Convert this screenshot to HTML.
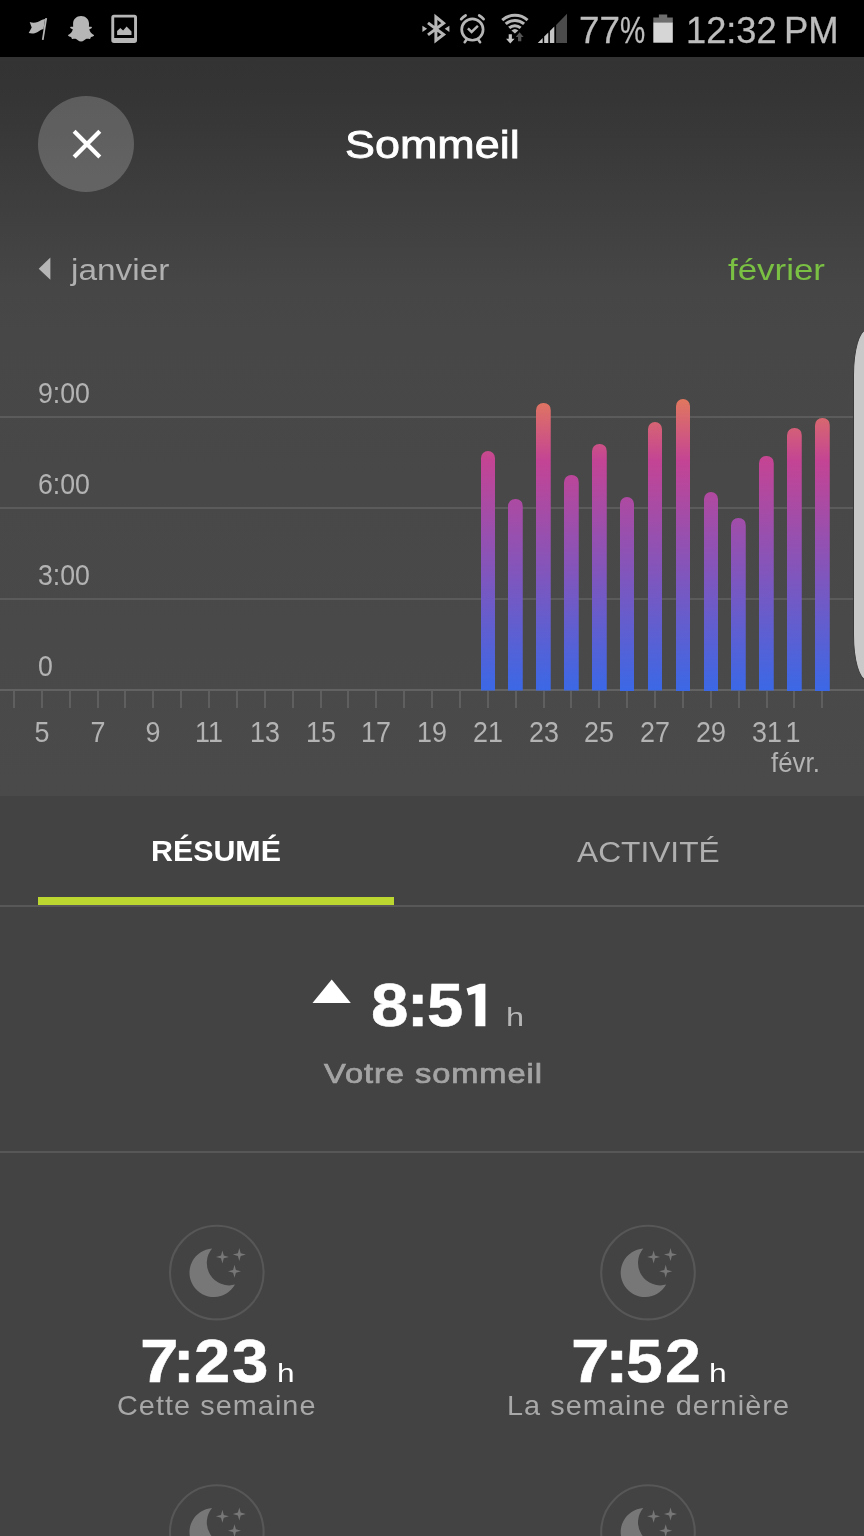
<!DOCTYPE html>
<html>
<head>
<meta charset="utf-8">
<title>Sommeil</title>
<style>
*{margin:0;padding:0;box-sizing:border-box;}
html,body{width:864px;height:1536px;overflow:hidden;background:#434343;}
body{font-family:"Liberation Sans",sans-serif;position:relative;color:#fff;}
.abs{position:absolute;}
.t{position:absolute;white-space:nowrap;line-height:1;transform-origin:0 0;}
#root{position:absolute;left:0;top:0;width:864px;height:1536px;will-change:transform;}
#status{position:absolute;left:0;top:0;width:864px;height:57.5px;background:#000;}
#header{position:absolute;left:0;top:57px;width:864px;height:280px;background:linear-gradient(#333333 0px,#343434 30px,#464646 230px,#474747 280px);}
#chart{position:absolute;left:0;top:330px;width:864px;height:466.6px;background:linear-gradient(#474747,#4a4a4a);}
#lower{position:absolute;left:0;top:796px;width:864px;height:740px;background:#434343;}
.grid{position:absolute;left:0;width:864px;height:2px;background:#5b5b5b;}
.ylab{position:absolute;left:37.6px;font-size:28.9px;line-height:1;color:#b3b3b3;white-space:nowrap;transform-origin:0 0;transform:scaleX(0.9238);}
.xlab{position:absolute;top:718px;width:60px;text-align:center;font-size:28.6px;line-height:1;color:#b3b3b3;white-space:nowrap;transform:scaleX(0.94);}
.tick{position:absolute;top:691px;width:2px;height:16.5px;background:#5f5f5f;}
.bar{position:absolute;width:14.5px;border-radius:7.25px 7.25px 0 0;background:linear-gradient(#e27a5c 0%,#c44494 22%,#3b68e6 100%) no-repeat bottom/100% 295px;}
</style>
</head>
<body>
<div id="root">
<div id="status"></div>
<div id="header"></div>
<div id="chart"></div>
<div id="lower"></div>

<!-- status bar -->
<svg class="abs" style="left:0;top:0;" width="864" height="57" viewBox="0 0 864 57"><path d="M45.3 18.0 L47.1 18.2 L43.6 40.0 L41.9 39.8 Z" fill="#b6b6b6"/><path d="M29.7 22.1 C32 23.0 35.2 23.1 37.6 22.0 C40 20.9 42 19.3 45.1 18.9 L43.5 29.0 C41 29.2 39.6 30.9 37.2 32.2 C34.6 33.6 31.5 33.7 28.7 33.0 L31.7 27.4 Z" fill="#b6b6b6"/><path d="M81.05 16.1 C85.6 16.1 89.0 19.4 89.0 23.6 C89.0 24.6 89.0 25.6 88.9 26.6 C89.8 27.1 91.3 26.2 91.9 27.2 C92.3 28.3 90.0 28.7 89.3 29.3 C89.9 32.0 91.6 34.1 94.0 35.1 C94.5 36.2 92.4 36.8 91.0 37.0 C90.5 37.6 90.7 38.6 90.0 38.9 C88.6 39.1 87.5 38.3 86.0 39.0 C84.4 39.9 83.5 41.5 81.05 41.5 C78.60 41.5 77.70 39.9 76.10 39.0 C74.60 38.3 73.50 39.1 72.10 38.9 C71.40 38.6 71.60 37.6 71.10 37.0 C69.70 36.8 67.60 36.2 68.10 35.1 C70.50 34.1 72.20 32.0 72.80 29.3 C72.10 28.7 69.80 28.3 70.20 27.2 C70.80 26.2 72.30 27.1 73.20 26.6 C73.10 25.6 73.10 24.6 73.10 23.6 C73.10 19.4 76.50 16.1 81.05 16.1 Z" fill="#b6b6b6"/><path fill-rule="evenodd" fill="#b6b6b6" d="M114 14.8 H134.3 A2.7 2.7 0 0 1 137 17.5 V40.3 A2.7 2.7 0 0 1 134.3 43 H114 A2.7 2.7 0 0 1 111.3 40.3 V17.5 A2.7 2.7 0 0 1 114 14.8 Z M114.2 17.6 V38.1 H134.1 V17.6 Z"/><path fill="#b6b6b6" d="M117.1 34.9 V31.1 L120.3 27.9 L123.1 30.4 L126.6 26.5 L131.5 31.4 V34.9 Z"/><path d="M428 22.9 L443.6 34.5 L435.9 40.4 L435.9 16.9 L443.6 23.1 L428 34.9" fill="none" stroke="#b6b6b6" stroke-width="3" stroke-linejoin="miter" stroke-miterlimit="6"/><path d="M422.4 25.8 L427.1 28.8 L422.4 31.9 Z M449.4 25.8 L444.7 28.8 L449.4 31.9 Z" fill="#b6b6b6"/><circle cx="472.4" cy="29.55" r="10.7" fill="none" stroke="#b6b6b6" stroke-width="2.7"/><path d="M461.2 19.1 A16 16 0 0 1 465.6 15.5 M479.2 15.5 A16 16 0 0 1 483.6 19.1" fill="none" stroke="#b6b6b6" stroke-width="2.7" stroke-linecap="round"/><path d="M466.6 39.6 L464.7 42.2 M478.2 39.6 L480.1 42.2" fill="none" stroke="#b6b6b6" stroke-width="2.6" stroke-linecap="round"/><path d="M467.9 28.3 L471.6 31.9 L477.9 25.9" fill="none" stroke="#b6b6b6" stroke-width="2.5"/><path d="M502.24 20.09 A19.1 19.1 0 0 1 527.56 20.09 M505.69 23.99 A13.9 13.9 0 0 1 524.11 23.99 M509.20 27.96 A8.6 8.6 0 0 1 520.60 27.96" fill="none" stroke="#b6b6b6" stroke-width="3"/><path d="M514.9 33.4 L511.45 30.51 A5.2 5.2 0 0 1 518.35 30.51 Z" fill="#b6b6b6"/><path d="M508.8 34.2 H511.9 V38.8 H514.5 L510.3 43.4 L506.1 38.8 H508.8 Z" fill="#000" stroke="#000" stroke-width="1.6"/><path d="M508.7 34.2 H511.9 V38.8 H514.6 L510.3 43.5 L506.0 38.8 H508.7 Z" fill="#c4c4c4"/><path d="M519.6 32.2 L523.6 36.9 H521.3 V41.2 H518 V36.9 H515.7 Z" fill="#000" stroke="#000" stroke-width="1.6"/><path d="M519.6 32.2 L523.6 36.9 H521.3 V41.2 H518 V36.9 H515.7 Z" fill="#555"/><path d="M556.1 43 V25 L567 13.8 V43 Z" fill="#4b4b4b"/><path d="M537.8 43 L537.8 43.00 L542.7 38.10 L542.7 43 Z" fill="#c6c6c6"/><path d="M544.2 43 L544.2 36.60 L548.3 32.50 L548.3 43 Z" fill="#c6c6c6"/><path d="M549.9 43 L549.9 30.90 L554.3 26.50 L554.3 43 Z" fill="#c6c6c6"/><path d="M658.9 14.5 H667.2 V17.5 H672.8 V22.4 H653.3 V17.5 H658.9 Z" fill="#6e6e6e"/><rect x="653.3" y="22.4" width="19.5" height="20.3" fill="#d6d6d6"/></svg>
<div class="t" style="left:578.78px;top:12px;font-size:37px;-webkit-text-stroke:0.3px #bdbdbd;color:#bdbdbd;transform:scaleX(0.9955);">77</div>
<div class="t" style="left:620.21px;top:12px;font-size:37px;-webkit-text-stroke:0.3px #bdbdbd;color:#bdbdbd;transform:scaleX(0.7655);">%</div>
<div class="t" style="left:685.5px;top:12px;font-size:37px;-webkit-text-stroke:0.3px #bdbdbd;color:#bdbdbd;transform:scaleX(0.9787);">12:32</div>
<div class="t" style="left:784.36px;top:12px;font-size:37px;-webkit-text-stroke:0.3px #bdbdbd;color:#bdbdbd;transform:scaleX(0.9851);">PM</div>

<!-- header -->
<div class="abs" style="left:38.3px;top:95.8px;width:96px;height:96px;border-radius:50%;background:rgba(255,255,255,0.2);"></div>
<svg class="abs" style="left:60px;top:117px;" width="54" height="54" viewBox="60 117 54 54"><path d="M74.1 131.2 L99.8 156.9 M99.8 131.2 L74.1 156.9" stroke="#fff" stroke-width="4.2" fill="none"/></svg>
<div class="t" style="left:344.6px;top:125.5px;font-size:38.4px;-webkit-text-stroke:0.8px #fff;color:#fff;transform:scaleX(1.1699);">Sommeil</div>
<svg class="abs" style="left:36px;top:254px;" width="18" height="30" viewBox="36 254 18 30"><path d="M50.4 257.6 L50.4 279.8 L38.7 268.7 Z" fill="#b5b5b5"/></svg>
<div class="t" style="left:71.0px;top:256px;font-size:29.0px;color:#b0b0b0;transform:scaleX(1.1515);">janvier</div>
<div class="t" style="left:728.0px;top:256px;font-size:29.0px;color:#7ac143;transform:scaleX(1.2039);">février</div>
<!-- chart -->
<div class="grid" style="top:415.5px;"></div>
<div class="grid" style="top:506.5px;"></div>
<div class="grid" style="top:597.5px;"></div>
<div class="grid" style="top:689px;background:#626262;"></div>
<div class="ylab" style="top:379px;">9:00</div>
<div class="ylab" style="top:470px;">6:00</div>
<div class="ylab" style="top:561px;">3:00</div>
<div class="ylab" style="top:652px;">0</div>
<div class="tick" style="left:12.88px;"></div>
<div class="tick" style="left:40.75px;"></div>
<div class="tick" style="left:68.62px;"></div>
<div class="tick" style="left:96.50px;"></div>
<div class="tick" style="left:124.38px;"></div>
<div class="tick" style="left:152.25px;"></div>
<div class="tick" style="left:180.12px;"></div>
<div class="tick" style="left:208.00px;"></div>
<div class="tick" style="left:235.88px;"></div>
<div class="tick" style="left:263.75px;"></div>
<div class="tick" style="left:291.62px;"></div>
<div class="tick" style="left:319.50px;"></div>
<div class="tick" style="left:347.38px;"></div>
<div class="tick" style="left:375.25px;"></div>
<div class="tick" style="left:403.12px;"></div>
<div class="tick" style="left:431.00px;"></div>
<div class="tick" style="left:458.88px;"></div>
<div class="tick" style="left:486.75px;"></div>
<div class="tick" style="left:514.62px;"></div>
<div class="tick" style="left:542.50px;"></div>
<div class="tick" style="left:570.38px;"></div>
<div class="tick" style="left:598.25px;"></div>
<div class="tick" style="left:626.12px;"></div>
<div class="tick" style="left:654.00px;"></div>
<div class="tick" style="left:681.88px;"></div>
<div class="tick" style="left:709.75px;"></div>
<div class="tick" style="left:737.62px;"></div>
<div class="tick" style="left:765.50px;"></div>
<div class="tick" style="left:793.38px;"></div>
<div class="tick" style="left:821.25px;"></div>
<div class="xlab" style="left:11.75px;">5</div>
<div class="xlab" style="left:67.50px;">7</div>
<div class="xlab" style="left:123.25px;">9</div>
<div class="xlab" style="left:179.00px;">11</div>
<div class="xlab" style="left:234.75px;">13</div>
<div class="xlab" style="left:290.50px;">15</div>
<div class="xlab" style="left:346.25px;">17</div>
<div class="xlab" style="left:402.00px;">19</div>
<div class="xlab" style="left:457.75px;">21</div>
<div class="xlab" style="left:513.50px;">23</div>
<div class="xlab" style="left:569.25px;">25</div>
<div class="xlab" style="left:625.00px;">27</div>
<div class="xlab" style="left:680.75px;">29</div>
<div class="xlab" style="left:736.50px;">31</div>
<div class="xlab" style="left:762.88px;">1</div>
<div class="t" style="left:770.5px;top:749px;font-size:27.4px;color:#b3b3b3;transform:scaleX(0.9447);">févr.</div>
<div class="bar" style="left:480.50px;top:451px;height:239.5px;"></div>
<div class="bar" style="left:508.38px;top:499px;height:191.5px;"></div>
<div class="bar" style="left:536.25px;top:403px;height:287.5px;"></div>
<div class="bar" style="left:564.12px;top:475px;height:215.5px;"></div>
<div class="bar" style="left:592.00px;top:444px;height:246.5px;"></div>
<div class="bar" style="left:619.88px;top:496.5px;height:194.0px;"></div>
<div class="bar" style="left:647.75px;top:422px;height:268.5px;"></div>
<div class="bar" style="left:675.62px;top:398.5px;height:292.0px;"></div>
<div class="bar" style="left:703.50px;top:491.5px;height:199.0px;"></div>
<div class="bar" style="left:731.38px;top:518px;height:172.5px;"></div>
<div class="bar" style="left:759.25px;top:456px;height:234.5px;"></div>
<div class="bar" style="left:787.12px;top:427.5px;height:263.0px;"></div>
<div class="bar" style="left:815.00px;top:417.5px;height:273.0px;"></div>
<div class="abs" style="left:853px;top:329px;width:40px;height:352px;border-radius:14px/46px;background:#c9c9c9;border:1.5px solid #3a3a3a;"></div>
<!-- tabs -->
<div class="abs" style="left:0;top:905.1px;width:864px;height:1.8px;background:#585858;"></div>
<div class="abs" style="left:38.1px;top:897.4px;width:355.9px;height:7.7px;background:#bdd731;"></div>
<!-- fitted text -->
<div class="t" style="left:151.0px;top:837px;font-size:29.0px;font-weight:700;color:#fff;transform:scaleX(1.0469);">RÉSUMÉ</div>
<div class="t" style="left:577.0px;top:838px;font-size:29.2px;color:#b0b0b0;transform:scaleX(1.086);">ACTIVITÉ</div>
<div class="t" style="left:371.22px;top:974px;font-size:62px;font-weight:700;-webkit-text-stroke:0.5px #fff;color:#fff;transform:scaleX(1.0856);">8</div>
<div class="t" style="left:406.64px;top:974px;font-size:62px;font-weight:700;-webkit-text-stroke:0.5px #fff;color:#fff;transform:scaleX(1.0365);">:</div>
<div class="t" style="left:427.13px;top:974px;font-size:62px;font-weight:700;-webkit-text-stroke:0.5px #fff;color:#fff;transform:scaleX(1.0497);">5</div>
<div class="t" style="left:505.5px;top:1004px;font-size:26.6px;color:#b5b5b5;transform:scaleX(1.2222);">h</div>
<div class="t" style="left:324.31px;top:1060px;font-size:27.8px;letter-spacing:0.8px;-webkit-text-stroke:0.7px #a4a4a4;color:#a4a4a4;transform:scaleX(1.174);">Votre sommeil</div>
<div class="t" style="left:139.53px;top:1330px;font-size:62px;font-weight:700;-webkit-text-stroke:0.5px #fff;color:#fff;transform:scaleX(1.1181);">7</div>
<div class="t" style="left:173.14px;top:1330px;font-size:62px;font-weight:700;-webkit-text-stroke:0.5px #fff;color:#fff;transform:scaleX(1.0365);">:</div>
<div class="t" style="left:194.0px;top:1330px;font-size:62px;font-weight:700;-webkit-text-stroke:0.5px #fff;color:#fff;transform:scaleX(1.0509);">2</div>
<div class="t" style="left:232.0px;top:1330px;font-size:62px;font-weight:700;-webkit-text-stroke:0.5px #fff;color:#fff;transform:scaleX(1.0552);">3</div>
<div class="t" style="left:277.0px;top:1360px;font-size:26.3px;color:#fff;transform:scaleX(1.2014);">h</div>
<div class="t" style="left:117.0px;top:1392px;font-size:27.2px;letter-spacing:1px;color:#a8a8a8;transform:scaleX(1.0595);">Cette semaine</div>
<div class="t" style="left:570.5px;top:1330px;font-size:62px;font-weight:700;-webkit-text-stroke:0.5px #fff;color:#fff;transform:scaleX(1.1137);">7</div>
<div class="t" style="left:604.76px;top:1330px;font-size:62px;font-weight:700;-webkit-text-stroke:0.5px #fff;color:#fff;transform:scaleX(1.1463);">:</div>
<div class="t" style="left:625.5px;top:1330px;font-size:62px;font-weight:700;-webkit-text-stroke:0.5px #fff;color:#fff;transform:scaleX(1.064);">5</div>
<div class="t" style="left:664.77px;top:1330px;font-size:62px;font-weight:700;-webkit-text-stroke:0.5px #fff;color:#fff;transform:scaleX(1.0386);">2</div>
<div class="t" style="left:709.0px;top:1360px;font-size:26.3px;color:#fff;transform:scaleX(1.2081);">h</div>
<div class="t" style="left:506.5px;top:1392px;font-size:27.2px;letter-spacing:1px;color:#a8a8a8;transform:scaleX(1.0604);">La semaine dernière</div>

<svg class="abs" style="left:460px;top:978px;" width="32" height="54" viewBox="460 978 32 54"><path d="M466.5 988.4 L479.8 983.7 L485.4 983.7 L485.4 1026.2 L475.4 1026.2 L475.4 993.2 L468.5 995.4 Z" fill="#fff"/></svg>
<!-- summary -->
<svg class="abs" style="left:306px;top:974px;" width="52" height="36" viewBox="306 974 52 36"><path d="M312.5 1003 L350.8 1003 L331.7 979.4 Z" fill="#fff"/></svg>
<div class="abs" style="left:0;top:1150.5px;width:864px;height:2px;background:#575757;"></div>
<!-- cards -->
<svg class="abs" style="left:0;top:1200px;" width="864" height="336" viewBox="0 1200 864 336"><g transform="translate(0 0)"><circle cx="216.8" cy="1272.6" r="46.8" fill="none" stroke="#575757" stroke-width="2.1"/><path fill="#777777" d="M212.1 1248.5 A24.3 24.3 0 1 0 235 1284.6 A22.4 22.4 0 0 1 212.1 1248.5 Z M222.40 1250.40 L223.78 1255.52 L228.90 1256.90 L223.78 1258.28 L222.40 1263.40 L221.02 1258.28 L215.90 1256.90 L221.02 1255.52 L222.40 1250.40 Z M239.30 1248.10 L240.68 1253.22 L245.80 1254.60 L240.68 1255.98 L239.30 1261.10 L237.92 1255.98 L232.80 1254.60 L237.92 1253.22 L239.30 1248.10 Z M234.50 1264.80 L235.88 1269.92 L241.00 1271.30 L235.88 1272.68 L234.50 1277.80 L233.12 1272.68 L228.00 1271.30 L233.12 1269.92 L234.50 1264.80 Z"/></g><g transform="translate(0 259.4)"><circle cx="216.8" cy="1272.6" r="46.8" fill="none" stroke="#575757" stroke-width="2.1"/><path fill="#777777" d="M212.1 1248.5 A24.3 24.3 0 1 0 235 1284.6 A22.4 22.4 0 0 1 212.1 1248.5 Z M222.40 1250.40 L223.78 1255.52 L228.90 1256.90 L223.78 1258.28 L222.40 1263.40 L221.02 1258.28 L215.90 1256.90 L221.02 1255.52 L222.40 1250.40 Z M239.30 1248.10 L240.68 1253.22 L245.80 1254.60 L240.68 1255.98 L239.30 1261.10 L237.92 1255.98 L232.80 1254.60 L237.92 1253.22 L239.30 1248.10 Z M234.50 1264.80 L235.88 1269.92 L241.00 1271.30 L235.88 1272.68 L234.50 1277.80 L233.12 1272.68 L228.00 1271.30 L233.12 1269.92 L234.50 1264.80 Z"/></g><g transform="translate(431.2 0)"><circle cx="216.8" cy="1272.6" r="46.8" fill="none" stroke="#575757" stroke-width="2.1"/><path fill="#777777" d="M212.1 1248.5 A24.3 24.3 0 1 0 235 1284.6 A22.4 22.4 0 0 1 212.1 1248.5 Z M222.40 1250.40 L223.78 1255.52 L228.90 1256.90 L223.78 1258.28 L222.40 1263.40 L221.02 1258.28 L215.90 1256.90 L221.02 1255.52 L222.40 1250.40 Z M239.30 1248.10 L240.68 1253.22 L245.80 1254.60 L240.68 1255.98 L239.30 1261.10 L237.92 1255.98 L232.80 1254.60 L237.92 1253.22 L239.30 1248.10 Z M234.50 1264.80 L235.88 1269.92 L241.00 1271.30 L235.88 1272.68 L234.50 1277.80 L233.12 1272.68 L228.00 1271.30 L233.12 1269.92 L234.50 1264.80 Z"/></g><g transform="translate(431.2 259.4)"><circle cx="216.8" cy="1272.6" r="46.8" fill="none" stroke="#575757" stroke-width="2.1"/><path fill="#777777" d="M212.1 1248.5 A24.3 24.3 0 1 0 235 1284.6 A22.4 22.4 0 0 1 212.1 1248.5 Z M222.40 1250.40 L223.78 1255.52 L228.90 1256.90 L223.78 1258.28 L222.40 1263.40 L221.02 1258.28 L215.90 1256.90 L221.02 1255.52 L222.40 1250.40 Z M239.30 1248.10 L240.68 1253.22 L245.80 1254.60 L240.68 1255.98 L239.30 1261.10 L237.92 1255.98 L232.80 1254.60 L237.92 1253.22 L239.30 1248.10 Z M234.50 1264.80 L235.88 1269.92 L241.00 1271.30 L235.88 1272.68 L234.50 1277.80 L233.12 1272.68 L228.00 1271.30 L233.12 1269.92 L234.50 1264.80 Z"/></g></svg>
</div>
</body>
</html>
